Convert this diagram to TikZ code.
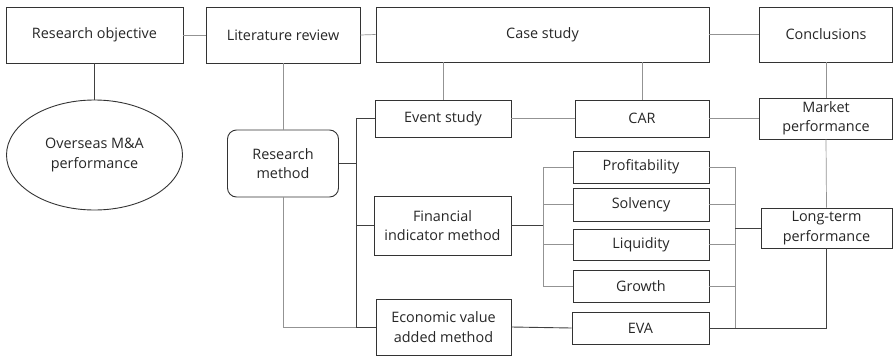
\documentclass[tikz,border=0pt]{standalone}
\usepackage{fontspec}
\setmainfont{Open Sans}
\usetikzlibrary{shapes.geometric}
\begin{document}
\begin{tikzpicture}[x=1pt,y=-1pt,
  box/.style={draw=black!80, line width=0.9pt, inner sep=0pt, align=center, font=\fontsize{14.4}{19.5}\selectfont, text=black!85},
  dk/.style={draw=black!75, line width=0.9pt},
  lt/.style={draw=gray!85, line width=0.7pt}]
\useasboundingbox (0,0) rectangle (893,356);
% top row
\node[box, minimum width=177, minimum height=56] (ro) at (94.5,35) {Research objective};
\node[box, minimum width=154, minimum height=56] (lr) at (283,35) {Literature review};
\node[box, minimum width=333, minimum height=55] (cs) at (542.5,34.5) {Case study};
\node[box, minimum width=133, minimum height=55] (co) at (826,34.5) {Conclusions};
% left
\node[box, ellipse, minimum width=176, minimum height=110] (el) at (94.5,155) {Overseas M\&A\\performance};
\node[box, rounded corners=9pt, minimum width=111, minimum height=67] (rm) at (283,163.5) {Research\\method};
% methods
\node[box, minimum width=136, minimum height=37] (es) at (443,118.5) {Event study};
\node[box, minimum width=137, minimum height=59] (fi) at (442.5,225.5) {Financial\\indicator method};
\node[box, minimum width=135, minimum height=56] (ev) at (443.5,327) {Economic value\\added method};
% indicators
\node[box, minimum width=134, minimum height=37] (car) at (642,118.5) {CAR};
\node[box, minimum width=136, minimum height=32] (pr) at (641,167) {Profitability};
\node[box, minimum width=136, minimum height=33] (so) at (641,204.5) {Solvency};
\node[box, minimum width=136, minimum height=31] (li) at (641,244.5) {Liquidity};
\node[box, minimum width=136, minimum height=32] (gr) at (641,286) {Growth};
\node[box, minimum width=137, minimum height=32] (eva) at (640.5,328) {EVA};
% results
\node[box, minimum width=133, minimum height=41] (mp) at (826,118.5) {Market\\performance};
\node[box, minimum width=131, minimum height=40] (ltp) at (826.5,228) {Long-term\\performance};
% bracket coordinates
\coordinate (b1) at (356,0);
\coordinate (b2) at (543,0);
\coordinate (b3) at (735,0);
% top connectors
\draw[lt] (ro.east) -- (lr.west);
\draw[lt] (lr.east) -- (cs.west);
\draw[lt] (cs.east) -- (co.west);
\draw[dk] (ro.south) -- (el.north);
\draw[lt] (lr.south) -- (rm.north);
\draw[lt] (es.north) -- (es.north |- cs.south);
\draw[lt] (car.north) -- (car.north |- cs.south);
\draw[lt] (co.south) -- (mp.north);
\draw[lt] (es.east) -- (car.west);
\draw[lt] (car.east) -- (mp.west);
\draw[lt] (mp.south) -- (ltp.north);
% research method bracket
\draw[dk] (rm.east) -- (rm.east -| b1);
\draw[dk] (es.west) -- (es.west -| b1) -- (ev.west -| b1) -- (ev.west);
\draw[dk] (fi.west) -- (fi.west -| b1);
\draw[lt] (rm.south) |- (ev.west -| b1);
% financial indicators bracket
\draw[dk] (fi.east) -- (fi.east -| b2);
\draw[lt] (pr.west) -- (pr.west -| b2) -- (gr.west -| b2) -- (gr.west);
\draw[lt] (so.west) -- (so.west -| b2);
\draw[lt] (li.west) -- (li.west -| b2);
% right bracket
\draw[lt] (pr.east) -- (pr.east -| b3) -- (eva.east -| b3);
\draw[lt] (so.east) -- (so.east -| b3);
\draw[lt] (li.east) -- (li.east -| b3);
\draw[lt] (gr.east) -- (gr.east -| b3);
\draw[dk] (ltp.west) -- (ltp.west -| b3);
\draw[dk] (eva.east) -| (ltp.south);
\draw[dk] (ev.east) -- (eva.west);
\end{tikzpicture}
\end{document}
